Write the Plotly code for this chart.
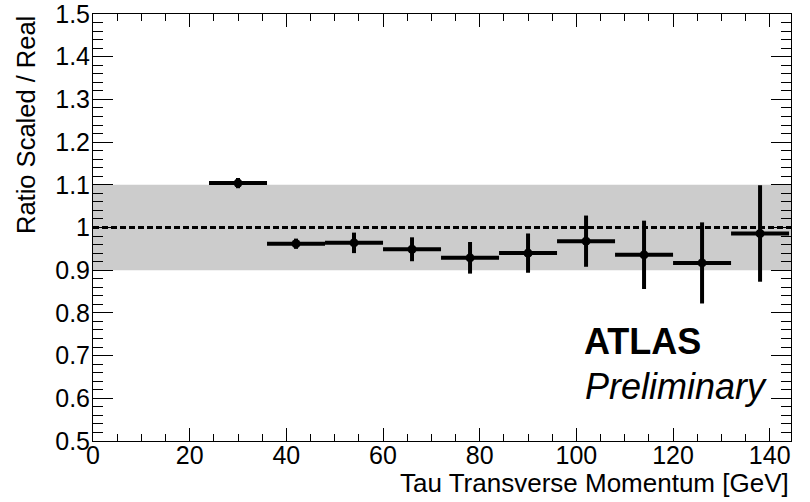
import plotly.graph_objects as go

# Data
bin_centers = [30, 42, 54, 66, 78, 90, 102, 114, 126, 138]
bin_half_width = [6, 6, 6, 6, 6, 6, 6, 6, 6, 6]
ratio = [1.104, 0.962, 0.964, 0.949, 0.929, 0.940, 0.968, 0.936, 0.917, 0.986]
ratio_err = [0.012, 0.012, 0.024, 0.028, 0.037, 0.046, 0.060, 0.080, 0.095, 0.113]

x_tick_vals = [0, 20, 40, 60, 80, 100, 120, 140]
x_tick_text = ["0", "20", "40", "60", "80", "100", "120", "140"]
y_tick_vals = [0.5, 0.6, 0.7, 0.8, 0.9, 1.0, 1.1, 1.2, 1.3, 1.4, 1.5]
y_tick_text = ["0.5", "0.6", "0.7", "0.8", "0.9", "1", "1.1", "1.2", "1.3", "1.4", "1.5"]

band_low, band_high = 0.9, 1.1
ref_line = 1.0
x_range = [0, 144.4]
y_range = [0.4999, 1.5001]

FONT = "Liberation Sans, Arial, Helvetica, sans-serif"

fig = go.Figure()
fig.add_trace(go.Scatter(
    x=bin_centers, y=ratio, mode="markers",
    marker=dict(color="black", size=9, symbol="circle"),
    error_x=dict(type="data", array=bin_half_width, symmetric=True,
                 color="black", thickness=4, width=0),
    error_y=dict(type="data", array=ratio_err, symmetric=True,
                 color="black", thickness=4, width=0),
    showlegend=False, cliponaxis=False,
))

fig.add_shape(type="rect", xref="paper", x0=0, x1=1, yref="y",
              y0=band_low, y1=band_high, fillcolor="#cccccc",
              line=dict(width=0), layer="below")
fig.add_shape(type="line", xref="paper", x0=0, x1=1, yref="y",
              y0=ref_line, y1=ref_line,
              line=dict(color="black", width=3, dash="6px,3px"), layer="below")

axis_common = dict(
    showline=True, linecolor="black", linewidth=1, mirror="allticks",
    ticks="inside", tickcolor="black", tickwidth=1,
    showgrid=False, zeroline=False, ticklabeloverflow="allow",
    automargin=False,
    tickfont=dict(family=FONT, size=25, color="black"),
)

fig.update_xaxes(range=x_range, tickmode="array", tickvals=x_tick_vals,
                 ticktext=x_tick_text, ticklen=13, ticklabelstandoff=-8,
                 minor=dict(dtick=5, tick0=0, ticklen=7, ticks="inside",
                            tickcolor="black", tickwidth=1, showgrid=False),
                 **axis_common)
fig.update_yaxes(range=y_range, tickmode="array", tickvals=y_tick_vals,
                 ticktext=y_tick_text, ticklen=20, ticklabelstandoff=-3,
                 minor=dict(dtick=0.02, tick0=0.5, ticklen=10, ticks="inside",
                            tickcolor="black", tickwidth=1, showgrid=False),
                 **axis_common)

fig.add_annotation(text="Tau Transverse Momentum [GeV]", xref="paper", yref="paper",
                   x=1.0, y=-0.0995, xanchor="right", yanchor="middle",
                   showarrow=False, font=dict(family=FONT, size=26, color="black"))
fig.add_annotation(text="Ratio Scaled / Real", xref="paper", yref="paper",
                   x=-0.096, y=1.0, xanchor="center", yanchor="top", textangle=-90,
                   showarrow=False, font=dict(family=FONT, size=25.5, color="black"))
fig.add_annotation(text="<b>ATLAS</b>", xref="paper", yref="paper",
                   x=0.700, y=0.232, xanchor="left", yanchor="middle",
                   showarrow=False, font=dict(family=FONT, size=36, color="black"))
fig.add_annotation(text="<i>Preliminary</i>", xref="paper", yref="paper",
                   x=0.702, y=0.127, xanchor="left", yanchor="middle",
                   showarrow=False, font=dict(family=FONT, size=36, color="black"))

fig.update_layout(
    width=810, height=502,
    margin=dict(l=93, r=19, t=14, b=61, autoexpand=False),
    paper_bgcolor="white", plot_bgcolor="white",
    font=dict(family=FONT, color="black"),
)

fig.write_html("out.html")
